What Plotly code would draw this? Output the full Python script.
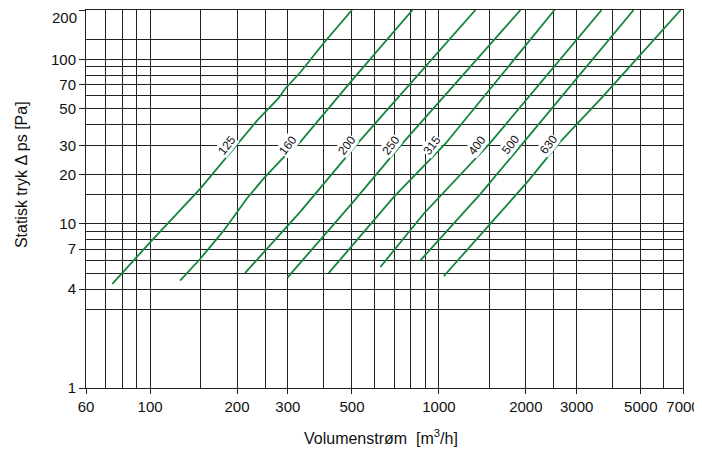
import math
import plotly.graph_objects as go

# ---- data ----
sizes = ["125", "160", "200", "250", "315", "400", "500", "630"]

q_125 = [74, 100, 149, 165, 200, 235, 278, 294, 331, 398, 500]
dp_125 = [4.3, 7.7, 16.3, 20.2, 30.7, 42.6, 57.9, 66.6, 83.3, 125, 200]

q_160 = [127, 149, 180, 216, 247, 298, 331, 494, 810]
dp_160 = [4.5, 6.1, 9.1, 14.2, 18.8, 26.7, 31.4, 72.8, 200]

q_200 = [213, 247, 331, 522, 1338]
dp_200 = [5.0, 6.7, 11.8, 30.7, 200]

q_250 = [299, 500, 736, 1917]
dp_250 = [4.7, 13.3, 29.9, 200]

q_315 = [415, 697, 1053, 2514]
dp_315 = [5.0, 14.5, 30.7, 200]

q_400 = [627, 886, 1497, 3659]
dp_400 = [5.45, 11.5, 30.7, 200]

q_500 = [861, 1393, 1948, 4722]
dp_500 = [5.96, 15.2, 30.7, 200]

q_630 = [1039, 1470, 2022, 2596, 3679, 6873]
dp_630 = [4.79, 9.54, 17.9, 30.7, 59, 200]

label_q = [185, 301, 482, 685, 950, 1360, 1770, 2396]
label_dp = [30, 30, 30, 30, 30, 30, 30, 30]

x_ticks = [60, 100, 200, 300, 500, 1000, 2000, 3000, 5000, 7000]
x_ticktext = ["60", "100", "200", "300", "500", "1000", "2000", "3000", "5000", "7000"]
x_grid_minor = [70, 80, 90, 150, 250, 400, 600, 700, 800, 900, 1500, 2500, 4000, 6000]

y_ticks = [1, 4, 7, 10, 20, 30, 50, 70, 100, 200]
y_ticktext = ["1", "4", "7", "10", "20", "30", "50", "70", "100", ""]
y_top_label = "200"
y_grid_minor = [3, 5, 6, 8, 9, 15, 40, 60, 80, 90, 133]

series_q = [q_125, q_160, q_200, q_250, q_315, q_400, q_500, q_630]
series_dp = [dp_125, dp_160, dp_200, dp_250, dp_315, dp_400, dp_500, dp_630]

GREEN = "#13873b"
GRID = "#222222"
FONT = "Liberation Sans, Arial, sans-serif"

fig = go.Figure()
for name, q, dp in zip(sizes, series_q, series_dp):
    fig.add_trace(go.Scatter(x=q, y=dp, mode="lines", name=name,
                             line=dict(color=GREEN, width=1.8),
                             showlegend=False, hoverinfo="skip"))

# annotations on log axes are positioned in log10 units
for name, lq, ld in zip(sizes, label_q, label_dp):
    fig.add_annotation(x=math.log10(lq), y=math.log10(ld), xref="x", yref="y",
                       text=name, showarrow=False, textangle=-52,
                       font=dict(family=FONT, size=12, color="#111"),
                       bgcolor="white", borderpad=0,
                       xanchor="center", yanchor="middle")

# top y tick label (kept inside the page)
fig.add_annotation(xref="paper", yref="paper", x=0, y=1, xshift=-8,
                   text=y_top_label, showarrow=False, borderpad=0,
                   font=dict(family=FONT, size=15, color="#111"),
                   xanchor="right", yanchor="top", yshift=2)

fig.add_annotation(xref="paper", yref="paper", x=0.494, y=-0.13,
                   text="Volumenstrøm  [m<sup>3</sup>/h]", showarrow=False,
                   font=dict(family=FONT, size=16, color="#111"),
                   xanchor="center", yanchor="middle")
fig.add_annotation(xref="paper", yref="paper", x=-0.107, y=0.5635,
                   text="Statisk tryk \u0394 ps [Pa]", showarrow=False,
                   textangle=-90,
                   font=dict(family=FONT, size=16, color="#111"),
                   xanchor="center", yanchor="middle")

fig.update_xaxes(type="log", range=[1.778151, 3.845098], automargin=False,
                 tickmode="array", tickvals=x_ticks, ticktext=x_ticktext,
                 ticks="outside", ticklen=5, tickcolor=GRID, tickwidth=1,
                 showgrid=True, gridcolor=GRID, gridwidth=1,
                 minor=dict(tickvals=x_grid_minor, showgrid=True,
                            gridcolor=GRID, gridwidth=1, ticks=""),
                 showline=True, linecolor=GRID, linewidth=1, mirror=True,
                 zeroline=False,
                 tickfont=dict(family=FONT, size=15, color="#111"))
fig.update_yaxes(type="log", range=[0, 2.30103], automargin=False,
                 tickmode="array", tickvals=y_ticks, ticktext=y_ticktext,
                 ticks="outside", ticklen=6, tickcolor=GRID, tickwidth=1,
                 showgrid=True, gridcolor=GRID, gridwidth=1,
                 minor=dict(tickvals=y_grid_minor, showgrid=True,
                            gridcolor=GRID, gridwidth=1, ticks=""),
                 showline=True, linecolor=GRID, linewidth=1, mirror=True,
                 zeroline=False,
                 tickfont=dict(family=FONT, size=15, color="#111"))

# the page body adds an 8px offset; margins compensate so the plot area
# sits at the reference position (x 86..683, y 10..388 in the page)
fig.update_layout(width=702, height=450,
                  margin=dict(l=78, r=27, t=2, b=70, autoexpand=False),
                  plot_bgcolor="white", paper_bgcolor="white",
                  font=dict(family=FONT))

fig.write_html("out.html")
